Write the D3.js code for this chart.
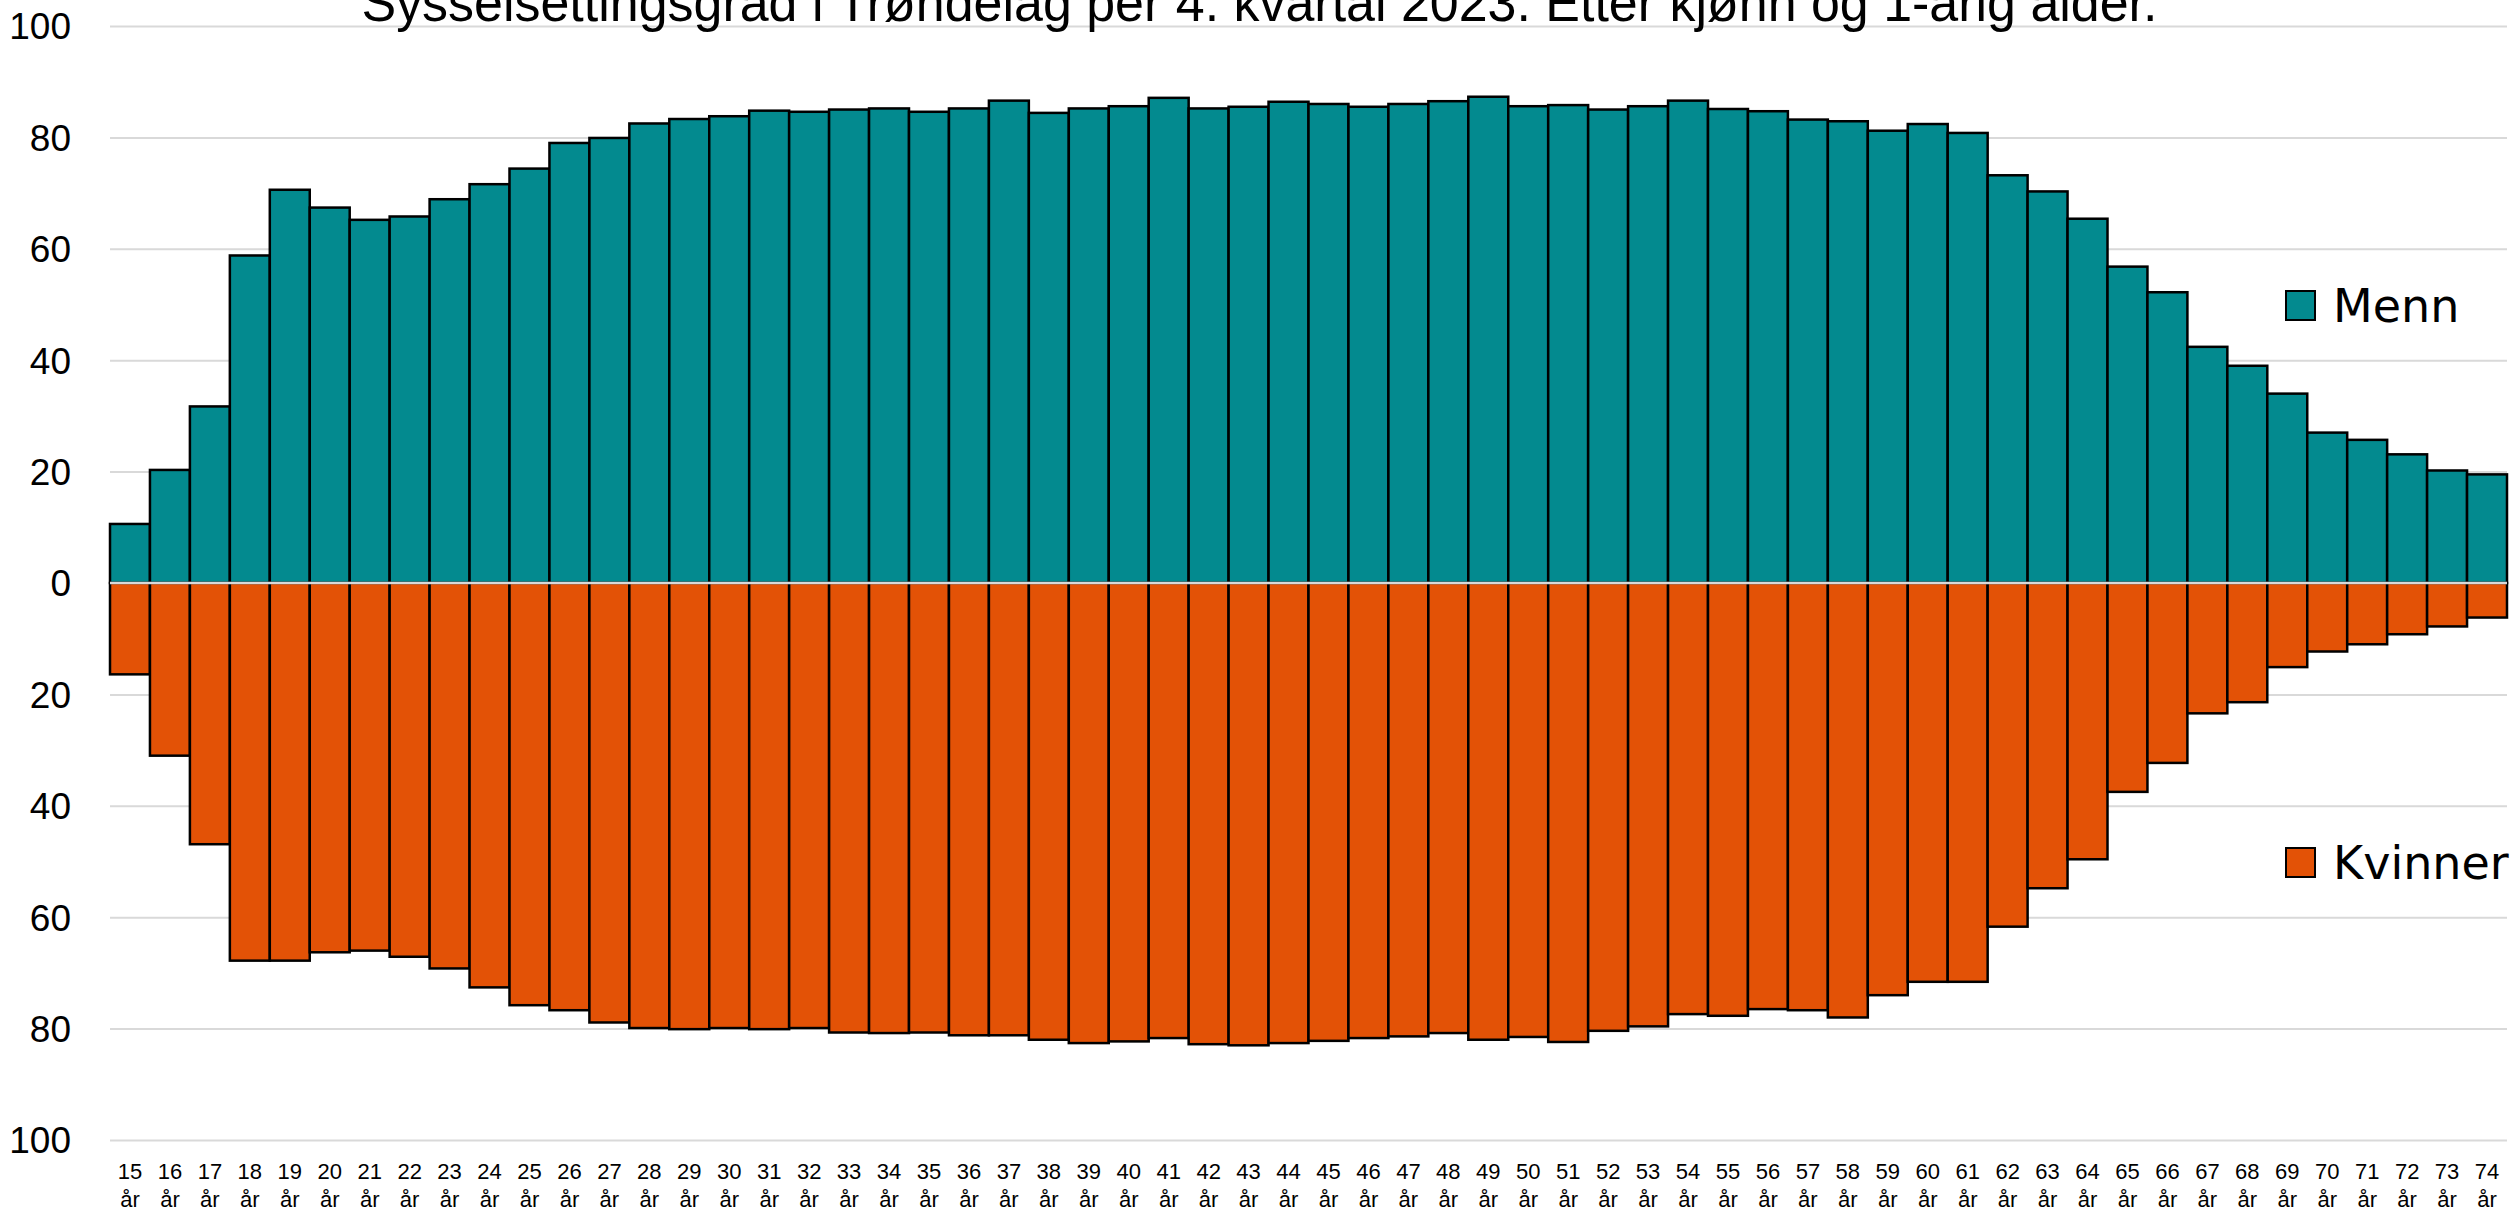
<!DOCTYPE html>
<html lang="no">
<head>
<meta charset="utf-8">
<title>Sysselsettingsgrad i Trøndelag</title>
<script src="https://cdn.jsdelivr.net/npm/d3@7"></script>
<style>
  html, body { margin: 0; padding: 0; background: #ffffff; }
  svg { display: block; }
</style>
</head>
<body>
<div id="chart"></div>
<script>
// Alder (1-årig), 15–74 år
const ages = [15, 16, 17, 18, 19, 20, 21, 22, 23, 24,
              25, 26, 27, 28, 29, 30, 31, 32, 33, 34,
              35, 36, 37, 38, 39, 40, 41, 42, 43, 44,
              45, 46, 47, 48, 49, 50, 51, 52, 53, 54,
              55, 56, 57, 58, 59, 60, 61, 62, 63, 64,
              65, 66, 67, 68, 69, 70, 71, 72, 73, 74];

// Sysselsettingsgrad, menn (prosent)
const menn = [10.6, 20.3, 31.7, 58.8, 70.6, 67.4, 65.2, 65.8, 68.9, 71.6,
              74.4, 79.0, 79.9, 82.5, 83.3, 83.8, 84.8, 84.6, 85.0, 85.2,
              84.6, 85.2, 86.6, 84.4, 85.2, 85.6, 87.1, 85.2, 85.5, 86.4,
              86.0, 85.5, 86.0, 86.5, 87.3, 85.6, 85.8, 85.0, 85.6, 86.6,
              85.1, 84.7, 83.2, 82.9, 81.2, 82.4, 80.8, 73.2, 70.3, 65.4,
              56.8, 52.2, 42.4, 39.0, 34.0, 27.0, 25.7, 23.1, 20.2, 19.5];

// Sysselsettingsgrad, kvinner (prosent)
const kvinner = [16.4, 31.0, 46.9, 67.8, 67.8, 66.3, 66.0, 67.1, 69.2, 72.6,
                 75.8, 76.7, 78.9, 79.9, 80.1, 79.9, 80.1, 79.9, 80.7, 80.8,
                 80.7, 81.2, 81.2, 82.0, 82.6, 82.3, 81.7, 82.8, 83.0, 82.6,
                 82.2, 81.7, 81.4, 80.8, 82.0, 81.5, 82.4, 80.4, 79.6, 77.4,
                 77.7, 76.5, 76.7, 78.0, 74.0, 71.6, 71.6, 61.7, 54.8, 49.6,
                 37.5, 32.3, 23.4, 21.4, 15.1, 12.3, 11.0, 9.2, 7.8, 6.2];

const yTicks = [-100, -80, -60, -40, -20, 0, 20, 40, 60, 80, 100];
const seriesNames = ["Menn", "Kvinner"];
const title = "Sysselsettingsgrad i Trøndelag per 4. kvartal 2023. Etter kjønn og 1-årig alder.";

const W = 2519, H = 1213;
const plot = { left: 110, right: 2507, top: 26, bottom: 1140 };
const colMenn = "#038a8f";
const colKvinner = "#e35206";
const gridCol = "#d9d9d9";

const svg = d3.select("#chart").append("svg")
  .attr("width", W).attr("height", H)
  .attr("viewBox", `0 0 ${W} ${H}`);

svg.append("rect").attr("width", W).attr("height", H).attr("fill", "#ffffff");

const x = d3.scaleBand().domain(ages).range([plot.left, plot.right]).padding(0);
const y = d3.scaleLinear().domain([-100, 100]).range([plot.bottom, plot.top]);

// Horisontale rutelinjer
const grid = svg.append("g")
  .attr("transform", `translate(${plot.left},0)`)
  .call(d3.axisLeft(y).tickValues(yTicks.filter(v => v !== 0))
        .tickSize(-(plot.right - plot.left)).tickFormat(""));
grid.select(".domain").remove();
grid.selectAll(".tick line").attr("stroke", gridCol).attr("stroke-width", 2);

// Verdiakse (absolutte verdier på begge sider av null)
const yAxis = svg.append("g")
  .attr("transform", "translate(71,0)")
  .call(d3.axisLeft(y).tickValues(yTicks).tickSize(0).tickPadding(0)
        .tickFormat(v => Math.abs(v)));
yAxis.select(".domain").remove();
yAxis.selectAll("text")
  .attr("font-family", "'Liberation Sans', Arial, sans-serif")
  .attr("font-size", 37)
  .attr("fill", "#000")
  .attr("dy", "0.35em");

// Søyler for menn (opp) og kvinner (ned)
const bars = svg.append("g");
bars.selectAll("rect.menn").data(ages).join("rect")
  .attr("class", "menn")
  .attr("x", d => x(d))
  .attr("width", x.bandwidth())
  .attr("y", (d, i) => y(menn[i]))
  .attr("height", (d, i) => y(0) - y(menn[i]))
  .attr("fill", colMenn)
  .attr("stroke", "#000")
  .attr("stroke-width", 2.5);

bars.selectAll("rect.kvinner").data(ages).join("rect")
  .attr("class", "kvinner")
  .attr("x", d => x(d))
  .attr("width", x.bandwidth())
  .attr("y", y(0))
  .attr("height", (d, i) => y(-kvinner[i]) - y(0))
  .attr("fill", colKvinner)
  .attr("stroke", "#000")
  .attr("stroke-width", 2.5);

// Nullinje over søylene
svg.append("line")
  .attr("x1", plot.left).attr("x2", plot.right)
  .attr("y1", y(0)).attr("y2", y(0))
  .attr("stroke", gridCol).attr("stroke-width", 2.5);

// Aldersakse med to linjer per etikett
const xAxis = svg.append("g")
  .attr("transform", "translate(0,1151)")
  .call(d3.axisBottom(x).tickSize(0).tickPadding(0).tickFormat(""));
xAxis.select(".domain").remove();
xAxis.selectAll(".tick").each(function(d) {
  const t = d3.select(this).append("text")
    .attr("text-anchor", "middle")
    .attr("font-family", "'Liberation Sans', Arial, sans-serif")
    .attr("font-size", 22)
    .attr("fill", "#000");
  t.append("tspan").attr("x", 0).attr("y", 28).text(d);
  t.append("tspan").attr("x", 0).attr("y", 56).text("år");
});

// Tittel
svg.append("text")
  .attr("x", W / 2).attr("y", 21)
  .attr("text-anchor", "middle")
  .attr("font-family", "'Liberation Sans', Arial, sans-serif")
  .attr("font-size", 54)
  .attr("fill", "#000")
  .attr("textLength", 1796)
  .attr("lengthAdjust", "spacingAndGlyphs")
  .text(title);

// Forklaring
const legend = svg.append("g");
const legendItems = [
  { name: seriesNames[0], color: colMenn, cy: 305 },
  { name: seriesNames[1], color: colKvinner, cy: 862 }
];
legendItems.forEach(it => {
  legend.append("rect")
    .attr("x", 2286).attr("y", it.cy - 14)
    .attr("width", 29).attr("height", 29)
    .attr("fill", it.color).attr("stroke", "#000").attr("stroke-width", 2);
  legend.append("text")
    .attr("x", 2333).attr("y", it.cy)
    .attr("dy", "0.36em")
    .attr("font-family", "'DejaVu Sans', Verdana, sans-serif")
    .attr("font-size", 46)
    .attr("fill", "#000")
    .text(it.name);
});
</script>
</body>
</html>
